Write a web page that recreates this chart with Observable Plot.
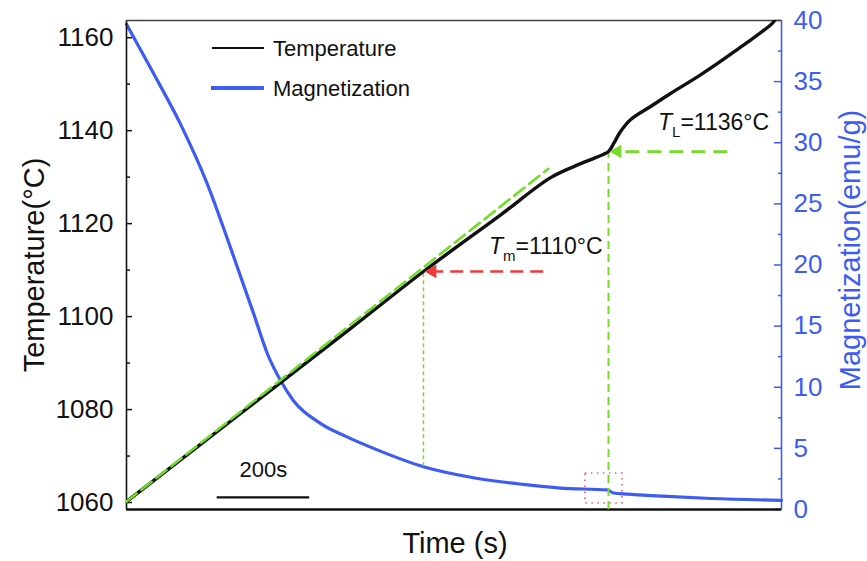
<!DOCTYPE html>
<html><head><meta charset="utf-8">
<script src="https://cdn.jsdelivr.net/npm/d3@7"></script>
<script src="https://cdn.jsdelivr.net/npm/@observablehq/plot@0.6"></script>
<style>
body{margin:0;background:#fff;}
#wrap{position:relative;width:867px;height:561px;font-family:"Liberation Sans",Arial,sans-serif;}
#wrap svg{position:absolute;left:0;top:0;overflow:visible;}
</style></head><body><div id="wrap"></div>
<script>
// ---- data ----
const tempTime = [0,160,333,484,642,809,917,982,1014,1042,1053,1068,1090,1133,1176,1241,1317,1397,1405];
const temperature = [1060.2,1072.5,1085.8,1097.4,1109.7,1121.9,1129.9,1132.9,1134.2,1135.5,1137.2,1139.8,1142.4,1145.2,1148.0,1152.0,1157.2,1163.2,1164.4];
const magTime = [0,58,117,175,225,275,305,333,361,419,473,534,642,750,858,938,1039,1053,1083,1154,1263,1416];
const magnetization = [39.7,35.7,31.5,26.6,21.4,16.0,12.7,10.55,8.9,7.05,6.0,5.0,3.5,2.6,2.05,1.75,1.6,1.35,1.25,1.1,0.9,0.75];
const extrapTime = [0, 912];
const extrapTemp = [1060.2, 1131.8];
const tempTicks = [1060,1080,1100,1120,1140,1160];
const tempMinorTicks = [1070,1090,1110,1130,1150];
const magTicks = [0,5,10,15,20,25,30,35,40];
const magMinorTicks = [2.5,7.5,12.5,17.5,22.5,27.5,32.5,37.5];
const markerName = ["T","T"];
const markerSub = ["m","L"];
const markerValue = ["=1110°C","=1136°C"];
const markerTime = [642, 1042];
const markerTemp = [1109.7, 1135.5];
const arrowFrom = [902, 1300];
const scaleBarTime = [196, 396];
const scaleBarLevel = 1061.1;
const scaleBarLabel = "200s";
const boxTime = [992, 1072];
const boxMag = [0.49, 2.94];
const seriesNames = ["Temperature","Magnetization"];

// ---- layout ----
const W = 867, H = 561, mL = 126, mR = 86, mT = 20, mB = 52;
const blue = "#3d5cf2", green = "#74dc26", red = "#f03a3a", pink = "#ff4f7b";
const font = "'Liberation Sans', Arial, sans-serif";
const tDomain = [0, 1416];
const TDomain = [1058.5, 1163.7];
const MDomain = [0, 40];

const yT = Plot.scale({y: {domain: TDomain, range: [H - mB, mT]}});
const yM = Plot.scale({y: {domain: MDomain, range: [H - mB, mT]}});

const tempData = tempTime.map((t, i) => ({t, v: temperature[i]}));
const magData = magTime.map((t, i) => ({t, m: magnetization[i]}));
const extrapData = extrapTime.map((t, i) => ({t, v: extrapTemp[i]}));

// magnetisation at Tm expressed on the temperature scale (where the Tm guide stops)
const mAtTm = magnetization[magTime.indexOf(markerTime[0])];
const tmBottom = yT.invert(yM.apply(mAtTm));

const common = {width: W, height: H, marginLeft: mL, marginRight: mR, marginTop: mT, marginBottom: mB,
  style: {fontFamily: font, background: "transparent", overflow: "visible", color: "#111"}};
const fmt = d3.format("d");

const magPlot = Plot.plot({
  ...common,
  x: {domain: tDomain, axis: null},
  y: {domain: MDomain},
  marks: [
    Plot.rect([0], {x1: boxTime[0], x2: boxTime[1], y1: boxMag[0], y2: boxMag[1], fill: "none", stroke: pink, strokeWidth: 1.6, strokeDasharray: "1.5,4.5"}),
    Plot.line(magData, {x: "t", y: "m", stroke: blue, strokeWidth: 3.2, curve: "monotone-x"}),
    Plot.ruleX([tDomain[1]], {stroke: blue, strokeWidth: 1.6}),
    Plot.axisY({anchor: "right", ticks: magTicks, tickSize: 0, tickPadding: 12, fontSize: 26, color: blue, label: null, tickFormat: fmt}),
    Plot.axisY({anchor: "right", ticks: magTicks, tickSize: -8, tickFormat: () => "", color: blue, label: null, strokeWidth: 1.5}),
    Plot.axisY({anchor: "right", ticks: magMinorTicks, tickSize: -4, tickFormat: () => "", color: blue, label: null, strokeWidth: 1.5})
  ]
});

const tempPlot = Plot.plot({
  ...common,
  x: {domain: tDomain, axis: null},
  y: {domain: TDomain},
  marks: [
    Plot.ruleX([tDomain[0]], {stroke: "#111", strokeWidth: 1.6}),
    Plot.ruleY([TDomain[0]], {stroke: "#111", strokeWidth: 2.6}),
    Plot.ruleY([TDomain[1]], {stroke: "#444", strokeWidth: 1.5}),
    Plot.axisY({anchor: "left", ticks: tempTicks, tickSize: 0, tickPadding: 13, fontSize: 26, label: null, tickFormat: fmt}),
    Plot.axisY({anchor: "left", ticks: tempTicks, tickSize: -6, tickFormat: () => "", label: null, strokeWidth: 1.5}),
    Plot.axisY({anchor: "left", ticks: tempMinorTicks, tickSize: -4, tickFormat: () => "", label: null, strokeWidth: 1.5}),
    // guide lines
    Plot.ruleX([0], {x: markerTime[0], y1: tmBottom, y2: markerTemp[0], stroke: green, strokeWidth: 1.5, strokeDasharray: "4,3"}),
    Plot.ruleX([0], {x: markerTime[1], y1: TDomain[0], y2: markerTemp[1], stroke: green, strokeWidth: 2, strokeDasharray: "8,5"}),
    Plot.line(tempData, {x: "t", y: "v", stroke: "#111", strokeWidth: 3.4, curve: "catmull-rom", clip: true}),
    Plot.line(extrapData, {x: "t", y: "v", stroke: green, strokeWidth: 2.6, strokeDasharray: "13,6"}),
    // arrows
    Plot.ruleY([0], {y: markerTemp[0], x1: arrowFrom[0], x2: markerTime[0] + 20, stroke: red, strokeWidth: 2.4, strokeDasharray: "13,7"}),
    Plot.dot([0], {x: markerTime[0], y: markerTemp[0], symbol: "triangle", rotate: -90, r: 5, fill: red, dx: 9}),
    Plot.ruleY([0], {y: markerTemp[1], x1: arrowFrom[1], x2: markerTime[1] + 20, stroke: green, strokeWidth: 2.8, strokeDasharray: "14,8"}),
    Plot.dot([0], {x: markerTime[1], y: markerTemp[1], symbol: "triangle", rotate: -90, r: 5, fill: green, dx: 9}),
    // scale bar
    Plot.ruleY([0], {y: scaleBarLevel, x1: scaleBarTime[0], x2: scaleBarTime[1], stroke: "#111", strokeWidth: 2.4}),
    Plot.text([scaleBarLabel], {x: (scaleBarTime[0] + scaleBarTime[1]) / 2, y: scaleBarLevel, dy: -27, fontSize: 22, fill: "#111", text: d => d})
  ]
});

const wrap = document.getElementById("wrap");
wrap.appendChild(magPlot);
wrap.appendChild(tempPlot);

// annotations with italic T and subscripts, positioned through the plot scales
const xs = tempPlot.scale("x"), ys = tempPlot.scale("y");
const svg = d3.select(tempPlot);
const annoOffset = [[66, -17], [50, -21]];
markerTime.forEach((t, i) => {
  const px = xs.apply(t) + annoOffset[i][0];
  const py = ys.apply(markerTemp[i]) + annoOffset[i][1];
  const txt = svg.append("text").attr("x", px).attr("y", py).attr("text-anchor", "start")
    .attr("font-family", font).attr("font-size", 23).attr("fill", "#111");
  txt.append("tspan").attr("font-style", "italic").text(markerName[i]);
  txt.append("tspan").attr("font-size", 15).attr("dy", 7).text(markerSub[i]);
  txt.append("tspan").attr("dy", -7).text(markerValue[i]);
});

// legend
const lg = svg.append("g").attr("font-family", font).attr("font-size", 22).attr("fill", "#111").attr("text-anchor", "start");
lg.append("line").attr("x1", 212).attr("x2", 264).attr("y1", 48).attr("y2", 48).attr("stroke", "#111").attr("stroke-width", 2);
lg.append("text").attr("x", 273).attr("y", 56).text(seriesNames[0]);
lg.append("line").attr("x1", 211).attr("x2", 264).attr("y1", 88).attr("y2", 88).attr("stroke", blue).attr("stroke-width", 4);
lg.append("text").attr("x", 273).attr("y", 96).text(seriesNames[1]);

// axis titles
svg.append("text").attr("transform", "translate(44,265) rotate(-90)").attr("text-anchor", "middle")
  .attr("font-family", font).attr("font-size", 29).attr("fill", "#111").text("Temperature(°C)");
svg.append("text").attr("transform", "translate(860,250) rotate(-90)").attr("text-anchor", "middle")
  .attr("font-family", font).attr("font-size", 29).attr("fill", blue).text("Magnetization(emu/g)");
svg.append("text").attr("x", 455).attr("y", 553).attr("text-anchor", "middle")
  .attr("font-family", font).attr("font-size", 29).attr("fill", "#111").text("Time (s)");
</script></body></html>
